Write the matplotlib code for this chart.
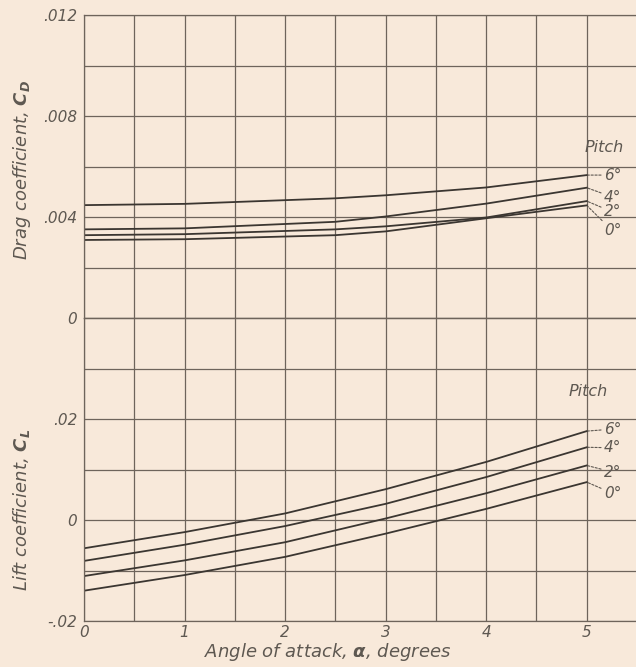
import numpy as np
import matplotlib
matplotlib.use("Agg")
import matplotlib.pyplot as plt

# datos
alpha = [0, 1, 2, 3, 4, 5]
pitch = ["0°", "2°", "4°", "6°"]

cd_alpha = [0, 1, 2.5, 3, 4, 5]
cd_0 = [0.00309, 0.00312, 0.00328, 0.00343, 0.00395, 0.00446]
cd_2 = [0.00328, 0.00332, 0.00351, 0.00363, 0.00398, 0.00463]
cd_4 = [0.00351, 0.00355, 0.00381, 0.00402, 0.00453, 0.00516]
cd_6 = [0.00447, 0.00452, 0.00474, 0.00486, 0.00517, 0.00566]

cl_0 = [-0.0140, -0.0109, -0.0073, -0.0027, 0.0022, 0.0075]
cl_2 = [-0.0111, -0.0080, -0.0044, 0.0003, 0.0053, 0.0108]
cl_4 = [-0.0081, -0.0049, -0.0012, 0.0032, 0.0085, 0.0144]
cl_6 = [-0.0056, -0.0024, 0.0013, 0.0061, 0.0115, 0.0176]

cd_label_y = [0.00345, 0.00420, 0.00479, 0.00566]
cl_label_y = [0.0053, 0.0095, 0.0143, 0.0180]

bg = "#f8e9da"
grid_c = "#6e645b"
line_c = "#3b3631"
txt_c = "#5e5851"

plt.rcParams["font.family"] = "DejaVu Sans"
plt.rcParams["font.style"] = "italic"

fig = plt.figure(figsize=(6.36, 6.67), dpi=100, facecolor=bg)
ax_d = fig.add_axes([84/636, 349/667, 553/636, 303/667])
ax_l = fig.add_axes([84/636, 46/667, 553/636, 303/667])


def estilo(ax, ymin, ymax, ystep, yticks, ylabels):
    ax.set_facecolor(bg)
    ax.set_xlim(0, 5.5)
    ax.set_ylim(ymin, ymax)
    ax.set_xticks(np.arange(0, 5.51, 0.5), minor=True)
    ax.set_yticks(np.arange(ymin, ymax + ystep / 2, ystep), minor=True)
    ax.set_yticks(yticks)
    ax.set_yticklabels(ylabels)
    ax.grid(True, which="both", color=grid_c, lw=0.9)
    ax.tick_params(which="both", length=0, labelsize=11, labelcolor=txt_c, pad=5)
    for s in ax.spines.values():
        s.set_color(grid_c)
        s.set_linewidth(0.9)


estilo(ax_d, 0, 0.012, 0.002, [0, 0.004, 0.008, 0.012], ["0", ".004", ".008", ".012"])
estilo(ax_l, -0.02, 0.04, 0.01, [-0.02, 0, 0.02], ["-.02", "0", ".02"])
ax_d.set_xticks([])
ax_l.set_xticks(alpha)
ax_l.set_xticklabels([str(a) for a in alpha])
ax_l.tick_params(axis="x", pad=3)

for serie, ly, p in zip([cd_0, cd_2, cd_4, cd_6], cd_label_y, pitch):
    ax_d.plot(cd_alpha, serie, color=line_c, lw=1.3)
    ax_d.annotate(p, xy=(5, serie[-1]), xytext=(5.17, ly), ha="left", va="center",
                  fontsize=11, color=txt_c,
                  arrowprops=dict(arrowstyle="-", ls=(0, (2, 1.5)), color=txt_c, lw=0.8,
                                  shrinkA=0, shrinkB=1))
ax_d.text(4.98, 0.00677, "Pitch", fontsize=11.5, color=txt_c, ha="left", va="center")

for serie, ly, p in zip([cl_0, cl_2, cl_4, cl_6], cl_label_y, pitch):
    ax_l.plot(alpha, serie, color=line_c, lw=1.3)
    ax_l.annotate(p, xy=(5, serie[-1]), xytext=(5.17, ly), ha="left", va="center",
                  fontsize=11, color=txt_c,
                  arrowprops=dict(arrowstyle="-", ls=(0, (2, 1.5)), color=txt_c, lw=0.8,
                                  shrinkA=0, shrinkB=1))
ax_l.text(4.82, 0.0255, "Pitch", fontsize=11.5, color=txt_c, ha="left", va="center")

fig.text(22/636, 1 - 170/667, r"Drag coefficient, $\mathbf{C_D}$", rotation=90,
         ha="center", va="center", fontsize=13, color=txt_c)
fig.text(22/636, 1 - 510/667, r"Lift coefficient, $\mathbf{C_L}$", rotation=90,
         ha="center", va="center", fontsize=13, color=txt_c)
fig.text(328/636, 1 - 652/667, r"Angle of attack, $\mathbf{\alpha}$, degrees",
         ha="center", va="center", fontsize=13, color=txt_c)

fig.savefig("out.png", dpi=100, facecolor=bg)
